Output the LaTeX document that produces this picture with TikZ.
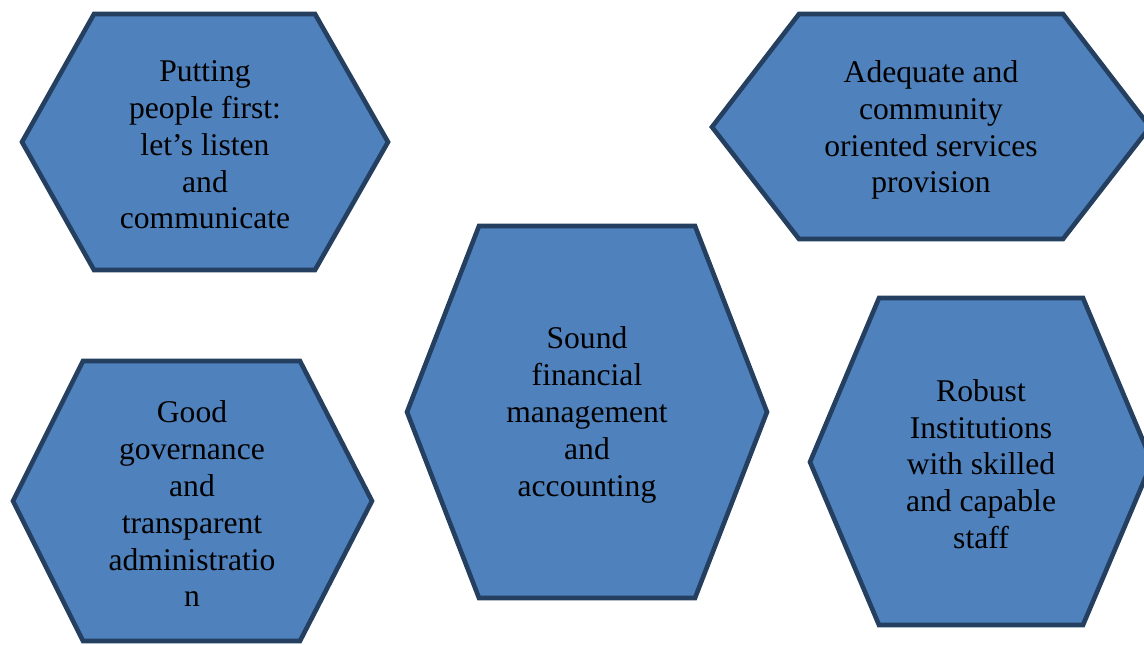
\documentclass[tikz,border=0pt]{standalone}
\usepackage{fontspec}
\setmainfont{Liberation Serif}
\definecolor{hexfill}{HTML}{4F81BD}
\definecolor{hexline}{HTML}{243F60}
\begin{document}
\begin{tikzpicture}[x=1pt,y=-1pt,
  hexbox/.style={fill=hexfill,draw=hexline,line width=4.6pt,line join=miter},
  hexlabel/.style={align=center,inner sep=0pt,text=black,
    font=\fontsize{31.6}{36.8}\selectfont}]
\useasboundingbox (0,0) rectangle (1144,645);
\clip (0,0) rectangle (1144,645);
\fill[white] (0,0) rectangle (1144,645);

% top left
\draw[hexbox] (22,142) -- (94,14) -- (315,14) -- (388,142) -- (315,270) -- (94,270) -- cycle;
\node[hexlabel] (people) at (205,145) {Putting\\people first:\\let’s listen\\and\\communicate};

% top right
\draw[hexbox] (712,127) -- (799,14) -- (1063,14) -- (1150,127) -- (1063,239) -- (799,239) -- cycle;
\node[hexlabel] (services) at (931,130) {Adequate and\\community\\oriented services\\provision};

% centre
\draw[hexbox] (407,412) -- (479,226) -- (695,226) -- (767,412) -- (695,598) -- (479,598) -- cycle;
\node[hexlabel] (finance) at (587,415) {Sound\\financial\\management\\and\\accounting};

% bottom left
\draw[hexbox] (13,501) -- (83,361) -- (300,361) -- (372,501) -- (300,641) -- (83,641) -- cycle;
\node[hexlabel] (governance) at (192,504) {Good\\governance\\and\\transparent\\administratio\\n};

% bottom right
\draw[hexbox] (810,462) -- (879,298) -- (1083,298) -- (1152,462) -- (1083,625) -- (879,625) -- cycle;
\node[hexlabel] (institutions) at (981,464) {Robust\\Institutions\\with skilled\\and capable\\staff};
\end{tikzpicture}
\end{document}
